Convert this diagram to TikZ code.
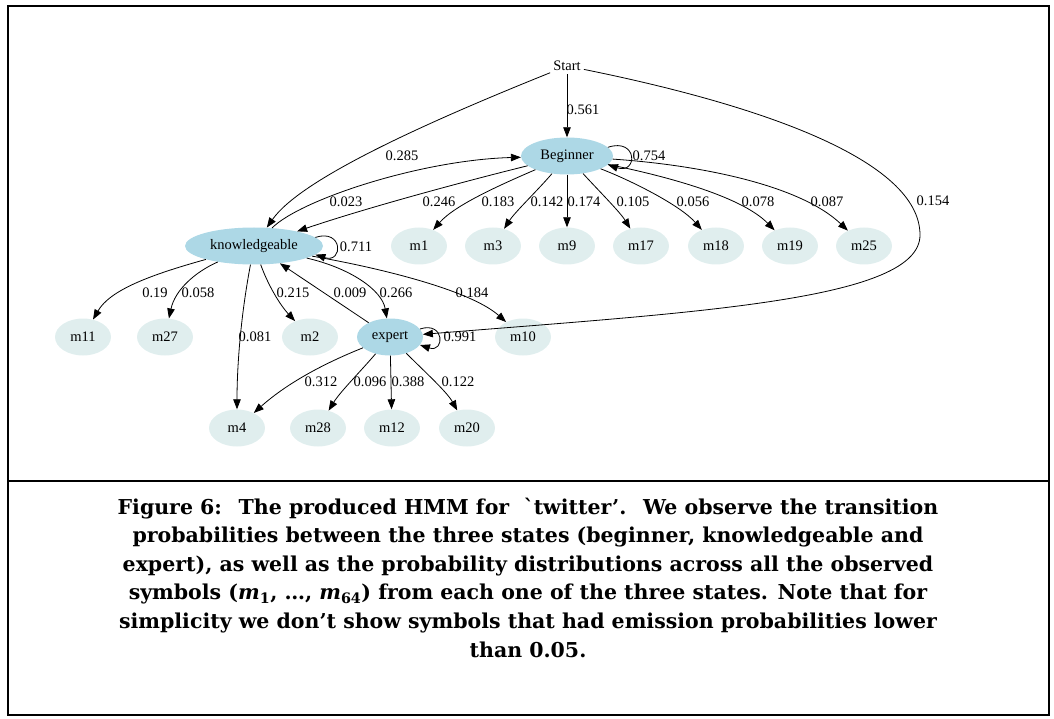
\documentclass[tikz,border=0pt]{standalone}
\usepackage{fontspec}
\setmainfont{Liberation Serif}
\newfontfamily\capfont{DejaVu Serif}
\usetikzlibrary{shapes.geometric,arrows.meta}
\definecolor{stateblue}{HTML}{ADD8E6}
\definecolor{symcol}{HTML}{E0EEEE}
\begin{document}
\begin{tikzpicture}[x=1pt,y=-1pt,
  gfont/.style={font=\fontsize{14.5}{16}\selectfont},
  state/.style={ellipse,fill=stateblue,minimum height=37pt,inner sep=0pt,gfont},
  sym/.style={ellipse,fill=symcol,minimum width=56pt,minimum height=37pt,inner sep=0pt,gfont},
  lab/.style={inner sep=0pt,gfont},
  tr/.style={-{Triangle[length=10pt,width=7.5pt]},line width=0.8pt},
  capline/.style={anchor=base,inner sep=0pt,font=\capfont\bfseries\fontsize{20.5}{24}\selectfont},
  frame/.style={line width=2pt}
]
\useasboundingbox (0,0) rectangle (1054,719);
\draw[frame] (8,6) rectangle (1049,715);
\draw[frame] (8,481) -- (1049,481);

% nodes
\node[gfont,inner sep=3pt] (S) at (567,66) {Start};
\node[state,minimum width=92pt] (B) at (567,156) {Beginner};
\node[state,minimum width=138pt] (K) at (254,246) {knowledgeable};
\node[state,minimum width=66pt] (E) at (390,337) {expert};
\node[sym] (m1) at (419,246) {m1};
\node[sym] (m3) at (493,246) {m3};
\node[sym] (m9) at (567,246) {m9};
\node[sym] (m17) at (641,246) {m17};
\node[sym] (m18) at (716,246) {m18};
\node[sym] (m19) at (790,246) {m19};
\node[sym] (m25) at (864,246) {m25};
\node[sym] (m11) at (83,337) {m11};
\node[sym] (m27) at (165,337) {m27};
\node[sym] (m2) at (310,337) {m2};
\node[sym] (m10) at (523,337) {m10};
\node[sym] (m4) at (237,428) {m4};
\node[sym] (m28) at (318,428) {m28};
\node[sym] (m12) at (392,428) {m12};
\node[sym] (m20) at (467,428) {m20};

% Start edges
\draw[tr] (S) -- (B);
\draw[tr] (S) .. controls (420,125) and (300,180) .. (K);
\draw[tr] (S) .. controls (760,105) and (920,160) .. (920,235) .. controls (920,300) and (700,312) .. (E);

% Beginner edges
\draw[tr] (B.12) .. controls +(30,-10) and +(30,10) .. (B.-12);
\draw[tr] (B) .. controls (450,185) and (360,210) .. (K);
\draw[tr] (B) .. controls (500,185) and (455,205) .. (m1);
\draw[tr] (B) .. controls (538,190) and (515,212) .. (m3);
\draw[tr] (B) -- (m9);
\draw[tr] (B) .. controls (598,190) and (620,212) .. (m17);
\draw[tr] (B) .. controls (630,180) and (680,205) .. (m18);
\draw[tr] (B) .. controls (660,175) and (740,195) .. (m19);
\draw[tr] (B) .. controls (700,165) and (800,185) .. (m25);

% knowledgeable edges
\draw[tr] (K) .. controls (300,200) and (420,160) .. (B);
\draw[tr] (K.8) .. controls +(28,-9) and +(28,9) .. (K.-8);
\draw[tr] (K) .. controls (150,275) and (110,290) .. (m11);
\draw[tr] (K) .. controls (195,272) and (175,290) .. (m27);
\draw[tr] (K) .. controls (240,320) and (237,370) .. (m4);
\draw[tr] (K) .. controls (268,285) and (280,305) .. (m2);
\draw[tr] (K) .. controls (350,268) and (382,290) .. (E);
\draw[tr] (K) .. controls (380,268) and (470,290) .. (m10);

% expert edges
\draw[tr] (E) -- (K);
\draw[tr] (E.15) .. controls +(25,-8) and +(25,8) .. (E.-15);
\draw[tr] (E) .. controls (320,365) and (285,385) .. (m4);
\draw[tr] (E) .. controls (360,372) and (340,392) .. (m28);
\draw[tr] (E) -- (m12);
\draw[tr] (E) .. controls (425,372) and (447,392) .. (m20);

% labels
\node[lab] (l1) at (583,110) {0.561};
\node[lab] (l2) at (402,156) {0.285};
\node[lab] (l3) at (933,201) {0.154};
\node[lab] (l4) at (649,156) {0.754};
\node[lab] (l5) at (346,202) {0.023};
\node[lab] (l6) at (439,202) {0.246};
\node[lab] (l7) at (498,202) {0.183};
\node[lab] (l8) at (547,202) {0.142};
\node[lab] (l9) at (584,202) {0.174};
\node[lab] (l10) at (633,202) {0.105};
\node[lab] (l11) at (693,202) {0.056};
\node[lab] (l12) at (758,202) {0.078};
\node[lab] (l13) at (827,202) {0.087};
\node[lab] (l14) at (356,247) {0.711};
\node[lab] (l15) at (155,293) {0.19};
\node[lab] (l16) at (198,293) {0.058};
\node[lab] (l17) at (293,293) {0.215};
\node[lab] (l18) at (350,293) {0.009};
\node[lab] (l19) at (396,293) {0.266};
\node[lab] (l20) at (472,293) {0.184};
\node[lab] (l21) at (255,337) {0.081};
\node[lab] (l22) at (460,337) {0.991};
\node[lab] (l23) at (321,382) {0.312};
\node[lab] (l24) at (370,382) {0.096};
\node[lab] (l25) at (408,382) {0.388};
\node[lab] (l26) at (458,382) {0.122};

% caption
\node[capline] (c1) at (528,514) {Figure 6:~ The produced HMM for~ ˋtwitter’.~ We observe the transition};
\node[capline] (c2) at (528,542.6) {probabilities between the three states (beginner, knowledgeable and};
\node[capline] (c3) at (528,571.2) {expert), as well as the probability distributions across all the observed};
\node[capline] (c4) at (528,599.8) {symbols (\textit{m}\textsubscript{1}, …, \textit{m}\textsubscript{64}) from each one of the three states. Note that for};
\node[capline] (c5) at (528,628.4) {simplicity we don’t show symbols that had emission probabilities lower};
\node[capline] (c6) at (528,657) {than 0.05.};
\end{tikzpicture}
\end{document}
